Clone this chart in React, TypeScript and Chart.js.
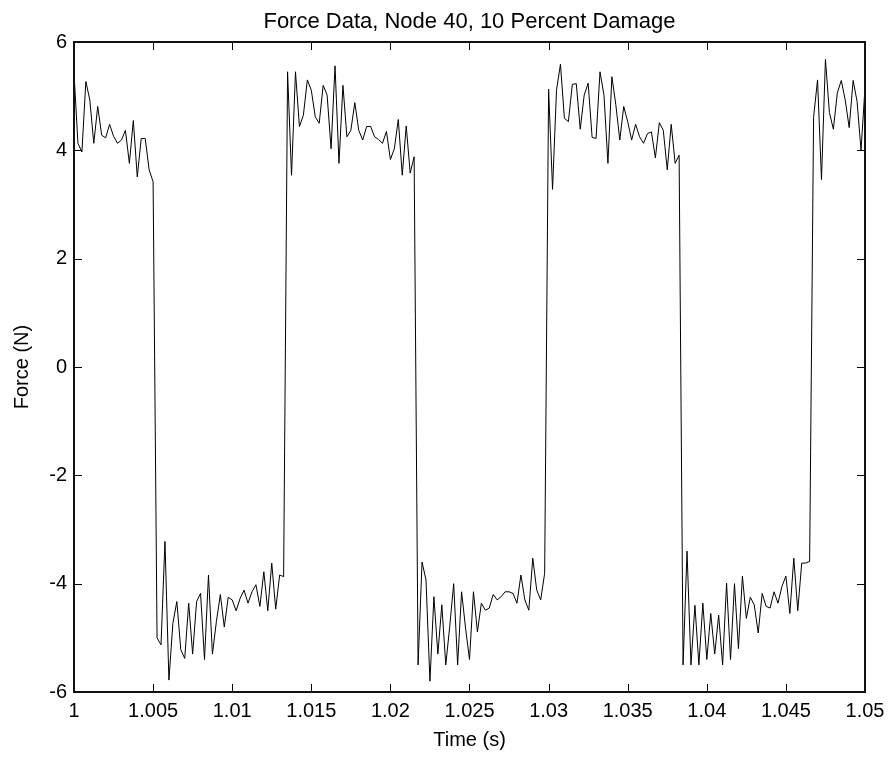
import React, { useEffect, useRef } from "react";
import { Chart, registerables } from "chart.js";

Chart.register(...registerables);

const chartTitle = "Force Data, Node 40, 10 Percent Damage";
const xLabel = "Time (s)";
const yLabel = "Force (N)";

const startTime = 1.0;
const sampleStep = 0.00025;
const xMin = 1.0;
const xMax = 1.05;
const xStep = 0.005;
const yMin = -6;
const yMax = 6;
const yStep = 2;

// Force samples (one segment per half cycle)
const highA = [5.42, 4.13, 3.97, 5.27, 4.93, 4.13, 4.81, 4.28, 4.23, 4.48, 4.26, 4.13, 4.19, 4.37, 3.76, 4.55, 3.51, 4.22, 4.22, 3.64, 3.42];
const lowB = [-5.0, -5.13, -3.22, -5.78, -4.73, -4.33, -5.22, -5.38, -4.36, -5.3, -4.33, -4.18, -5.4, -3.84, -5.3, -4.7, -4.2, -4.8, -4.25, -4.3, -4.5, -4.27, -4.12, -4.36, -4.15, -4.02, -4.42, -3.78, -4.5, -3.62, -4.47, -3.84, -3.87];
const highC = [5.45, 3.54, 5.45, 4.44, 4.65, 5.3, 5.11, 4.62, 4.5, 5.2, 5.02, 4.03, 5.56, 3.76, 5.2, 4.25, 4.37, 4.88, 4.37, 4.19, 4.44, 4.44, 4.25, 4.2, 4.13, 4.35, 3.83, 4.03, 4.57, 3.54, 4.45, 3.58, 3.88];
const lowD = [-5.5, -3.6, -3.93, -5.8, -4.24, -5.3, -4.39, -5.5, -4.79, -4.0, -5.5, -4.15, -4.82, -5.4, -4.15, -4.89, -4.36, -4.49, -4.45, -4.2, -4.3, -4.24, -4.15, -4.15, -4.18, -4.36, -3.84, -4.3, -4.49, -3.53, -4.12, -4.3, -3.81];
const highE = [5.13, 3.28, 5.11, 5.59, 4.59, 4.53, 5.22, 5.23, 4.39, 5.02, 5.24, 4.24, 4.22, 5.45, 5.02, 3.76, 5.36, 4.84, 4.19, 4.81, 4.53, 4.19, 4.48, 4.25, 4.13, 4.31, 4.34, 3.86, 4.51, 4.37, 3.64, 4.48, 3.76, 3.91];
const lowF = [-5.5, -3.4, -5.5, -4.4, -5.5, -4.36, -5.4, -4.55, -5.3, -4.58, -5.5, -3.99, -5.4, -4.0, -5.2, -3.86, -4.64, -4.25, -4.39, -4.91, -4.18, -4.42, -4.45, -4.15, -4.36, -4.05, -3.86, -4.55, -3.53, -4.5, -3.62, -3.62, -3.59];
const highG = [4.61, 5.3, 3.46, 5.68, 4.7, 4.39, 5.06, 5.29, 4.93, 4.42, 5.29, 4.9, 4.0, 5.16];

const force = [...highA, ...lowB, ...highC, ...lowD, ...highE, ...lowF, ...highG];

const FONT = "'Liberation Sans', Arial, Helvetica, sans-serif";

const fmt = (v: number) => String(Number(v.toFixed(3)));

const framePlugin = {
  id: "matlabFrame",
  afterDraw(chart: any) {
    const { ctx, chartArea } = chart;
    const { left, right, top, bottom } = chartArea;
    const xs = chart.scales.x;
    const ys = chart.scales.y;
    const tl = 8;
    ctx.save();
    ctx.strokeStyle = "#000";
    ctx.lineWidth = 1;
    ctx.beginPath();
    xs.ticks.forEach((t: any) => {
      const px = Math.round(xs.getPixelForValue(t.value)) + 0.5;
      ctx.moveTo(px, bottom);
      ctx.lineTo(px, bottom - tl);
      ctx.moveTo(px, top);
      ctx.lineTo(px, top + tl);
    });
    ys.ticks.forEach((t: any) => {
      const py = Math.round(ys.getPixelForValue(t.value)) + 0.5;
      ctx.moveTo(left, py);
      ctx.lineTo(left + tl, py);
      ctx.moveTo(right, py);
      ctx.lineTo(right - tl, py);
    });
    ctx.stroke();
    ctx.lineWidth = 2;
    ctx.strokeStyle = "#111";
    ctx.strokeRect(left, top, right - left, bottom - top);
    // title centred over the axes box
    ctx.fillStyle = "#000";
    ctx.font = `22px ${FONT}`;
    ctx.textAlign = "center";
    ctx.textBaseline = "middle";
    ctx.fillText(chartTitle, (left + right) / 2, 22);
    ctx.restore();
  },
};

export default function App() {
  const canvasRef = useRef<HTMLCanvasElement | null>(null);

  useEffect(() => {
    if (!canvasRef.current) return;
    const points = force.map((v, i) => ({ x: startTime + i * sampleStep, y: v }));
    const chart = new Chart(canvasRef.current, {
      type: "line",
      data: {
        datasets: [
          {
            label: "Force",
            data: points,
            borderColor: "#000",
            borderWidth: 1,
            pointRadius: 0,
            tension: 0,
            fill: false,
          },
        ],
      },
      options: {
        animation: false,
        responsive: false,
        maintainAspectRatio: false,
        layout: { padding: { left: 0, right: 27, top: 42, bottom: 0 } },
        plugins: {
          legend: { display: false },
          tooltip: { enabled: false },
          title: { display: false },
        },
        scales: {
          x: {
            type: "linear",
            min: xMin,
            max: xMax,
            grid: { display: false, drawTicks: false },
            border: { display: false },
            ticks: {
              stepSize: xStep,
              color: "#000",
              padding: 7,
              maxRotation: 0,
              autoSkip: false,
              font: { family: FONT, size: 20 },
              callback: (v: any) => fmt(Number(v)),
            },
            title: {
              display: true,
              text: xLabel,
              color: "#000",
              font: { family: FONT, size: 20 },
              padding: { top: 0, bottom: 5 },
            },
            afterFit: (s: any) => {
              s.height = 65;
            },
          },
          y: {
            type: "linear",
            min: yMin,
            max: yMax,
            grid: { display: false, drawTicks: false },
            border: { display: false },
            ticks: {
              stepSize: yStep,
              color: "#000",
              padding: 7,
              font: { family: FONT, size: 20 },
            },
            title: {
              display: true,
              text: yLabel,
              color: "#000",
              font: { family: FONT, size: 20 },
              padding: { top: 10, bottom: 0 },
            },
            afterFit: (s: any) => {
              s.width = 74;
            },
          },
        },
      },
      plugins: [framePlugin],
    });
    return () => chart.destroy();
  }, []);

  return (
    <div style={{ position: "absolute", left: 0, top: 0, width: 892, height: 757, background: "#fff" }}>
      <canvas ref={canvasRef} width={892} height={757} style={{ display: "block" }} />
    </div>
  );
}
